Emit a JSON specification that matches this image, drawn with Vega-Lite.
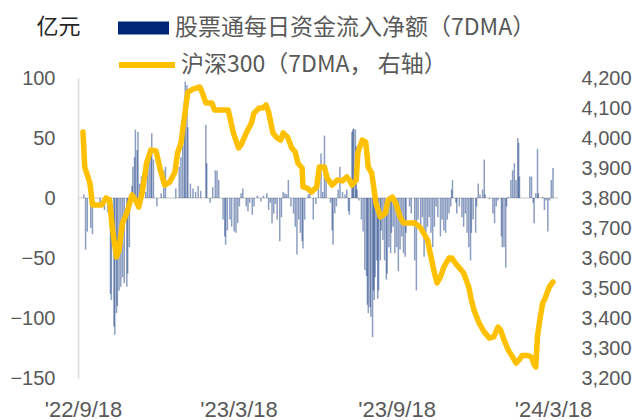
{
  "$schema": "https://vega.github.io/schema/vega-lite/v6.json",
  "width": 480,
  "height": 300,
  "autosize": "none",
  "padding": {"left": 78, "top": 78, "right": 80, "bottom": 42},
  "config": {"view": {"stroke": null}, "font": "Liberation Sans"},
  "datasets": {
    "flow": [
      {"date":"2022-09-19","flow":3},{"date":"2022-09-21","flow":-43},{"date":"2022-09-23","flow":-28},{"date":"2022-09-27","flow":-25},{"date":"2022-09-29","flow":-30},
      {"date":"2022-10-08","flow":-6},{"date":"2022-10-13","flow":-10},{"date":"2022-10-17","flow":-12},{"date":"2022-10-20","flow":-80},{"date":"2022-10-21","flow":-85},
      {"date":"2022-10-24","flow":-107},{"date":"2022-10-25","flow":-114},{"date":"2022-10-27","flow":-96},{"date":"2022-10-28","flow":-90},{"date":"2022-10-30","flow":-77},
      {"date":"2022-11-01","flow":-74},{"date":"2022-11-03","flow":-66},{"date":"2022-11-05","flow":-71},{"date":"2022-11-08","flow":-74},{"date":"2022-11-09","flow":-63},
      {"date":"2022-11-11","flow":-41},{"date":"2022-11-14","flow":10},{"date":"2022-11-15","flow":26},{"date":"2022-11-17","flow":34},{"date":"2022-11-18","flow":57},
      {"date":"2022-11-20","flow":40},{"date":"2022-11-21","flow":55},{"date":"2022-11-23","flow":12},{"date":"2022-11-25","flow":18},{"date":"2022-11-30","flow":5},
      {"date":"2022-12-02","flow":23},{"date":"2022-12-04","flow":34},{"date":"2022-12-06","flow":41},{"date":"2022-12-07","flow":54},{"date":"2022-12-09","flow":32},
      {"date":"2022-12-13","flow":-7},{"date":"2022-12-18","flow":4},{"date":"2022-12-21","flow":23},{"date":"2022-12-23","flow":26},
      {"date":"2023-01-04","flow":8},{"date":"2023-01-08","flow":26},{"date":"2023-01-10","flow":34},{"date":"2023-01-12","flow":44},{"date":"2023-01-14","flow":82},
      {"date":"2023-01-15","flow":97},{"date":"2023-01-17","flow":94},{"date":"2023-01-18","flow":59},{"date":"2023-01-21","flow":12},{"date":"2023-01-24","flow":8},
      {"date":"2023-01-27","flow":5},{"date":"2023-01-30","flow":10},{"date":"2023-02-02","flow":6},{"date":"2023-02-08","flow":61},{"date":"2023-02-09","flow":29},
      {"date":"2023-02-13","flow":-4},{"date":"2023-02-16","flow":9},{"date":"2023-02-19","flow":23},{"date":"2023-02-21","flow":23},{"date":"2023-02-23","flow":15},
      {"date":"2023-02-28","flow":-18},{"date":"2023-03-02","flow":-32},{"date":"2023-03-03","flow":-39},{"date":"2023-03-05","flow":-27},{"date":"2023-03-08","flow":-18},
      {"date":"2023-03-10","flow":-24},{"date":"2023-03-13","flow":-28},{"date":"2023-03-15","flow":-29},{"date":"2023-03-17","flow":-21},{"date":"2023-03-19","flow":-7},
      {"date":"2023-03-21","flow":4},{"date":"2023-03-23","flow":8},{"date":"2023-03-27","flow":-7},{"date":"2023-03-29","flow":-11},{"date":"2023-03-31","flow":-4},
      {"date":"2023-04-03","flow":-14},{"date":"2023-04-05","flow":-7},{"date":"2023-04-09","flow":2},{"date":"2023-04-13","flow":-3},{"date":"2023-04-16","flow":2},
      {"date":"2023-04-20","flow":4},{"date":"2023-04-22","flow":-10},{"date":"2023-04-24","flow":-4},{"date":"2023-04-26","flow":-21},{"date":"2023-04-28","flow":-13},
      {"date":"2023-04-30","flow":-5},{"date":"2023-05-02","flow":-18},{"date":"2023-05-05","flow":-36},{"date":"2023-05-07","flow":-16},{"date":"2023-05-09","flow":5},
      {"date":"2023-05-11","flow":4},{"date":"2023-05-13","flow":3},{"date":"2023-05-15","flow":15},{"date":"2023-05-18","flow":-7},{"date":"2023-05-21","flow":-13},
      {"date":"2023-05-23","flow":-24},{"date":"2023-05-25","flow":-47},{"date":"2023-05-27","flow":-18},{"date":"2023-05-29","flow":-29},{"date":"2023-05-31","flow":-36},
      {"date":"2023-06-01","flow":-42},{"date":"2023-06-03","flow":-18},{"date":"2023-06-07","flow":3},{"date":"2023-06-09","flow":9},{"date":"2023-06-13","flow":-18},
      {"date":"2023-06-16","flow":-5},{"date":"2023-06-19","flow":9},{"date":"2023-06-22","flow":37},{"date":"2023-06-24","flow":5},{"date":"2023-06-26","flow":52},
      {"date":"2023-06-28","flow":23},{"date":"2023-07-03","flow":-4},{"date":"2023-07-05","flow":-27},{"date":"2023-07-06","flow":-39},{"date":"2023-07-08","flow":-13},
      {"date":"2023-07-10","flow":-7},{"date":"2023-07-12","flow":7},{"date":"2023-07-14","flow":26},{"date":"2023-07-17","flow":5},{"date":"2023-07-20","flow":3},
      {"date":"2023-07-22","flow":7},{"date":"2023-07-24","flow":-11},{"date":"2023-07-25","flow":-14},{"date":"2023-07-28","flow":55},{"date":"2023-07-29","flow":57},
      {"date":"2023-07-30","flow":58},{"date":"2023-08-01","flow":57},{"date":"2023-08-02","flow":43},{"date":"2023-08-03","flow":7},{"date":"2023-08-05","flow":-2},
      {"date":"2023-08-08","flow":-18},{"date":"2023-08-10","flow":-28},{"date":"2023-08-12","flow":-60},{"date":"2023-08-14","flow":-65},{"date":"2023-08-15","flow":-89},
      {"date":"2023-08-16","flow":-96},{"date":"2023-08-18","flow":-91},{"date":"2023-08-19","flow":-99},{"date":"2023-08-21","flow":-116},{"date":"2023-08-22","flow":-77},
      {"date":"2023-08-23","flow":-85},{"date":"2023-08-24","flow":-66},{"date":"2023-08-26","flow":-52},{"date":"2023-08-27","flow":-84},{"date":"2023-08-28","flow":-77},
      {"date":"2023-08-30","flow":-52},{"date":"2023-08-31","flow":-27},{"date":"2023-09-02","flow":-35},{"date":"2023-09-04","flow":-52},{"date":"2023-09-06","flow":-68},
      {"date":"2023-09-07","flow":-63},{"date":"2023-09-09","flow":-41},{"date":"2023-09-11","flow":-46},{"date":"2023-09-12","flow":-29},{"date":"2023-09-14","flow":-24},
      {"date":"2023-09-16","flow":-46},{"date":"2023-09-18","flow":-41},{"date":"2023-09-20","flow":-61},{"date":"2023-09-22","flow":-43},{"date":"2023-09-24","flow":-32},
      {"date":"2023-09-26","flow":-46},{"date":"2023-09-28","flow":-49},{"date":"2023-09-29","flow":-29},{"date":"2023-10-03","flow":-7},{"date":"2023-10-05","flow":-13},
      {"date":"2023-10-09","flow":-52},{"date":"2023-10-11","flow":-77},{"date":"2023-10-13","flow":-18},{"date":"2023-10-16","flow":-29},{"date":"2023-10-18","flow":-16},
      {"date":"2023-10-20","flow":-49},{"date":"2023-10-22","flow":-32},{"date":"2023-10-24","flow":-24},{"date":"2023-10-26","flow":-16},{"date":"2023-10-28","flow":-29},
      {"date":"2023-10-30","flow":-41},{"date":"2023-11-01","flow":-24},{"date":"2023-11-03","flow":-7},{"date":"2023-11-05","flow":-16},{"date":"2023-11-08","flow":-32},
      {"date":"2023-11-10","flow":-18},{"date":"2023-11-12","flow":-27},{"date":"2023-11-14","flow":-29},{"date":"2023-11-16","flow":-18},{"date":"2023-11-18","flow":-13},
      {"date":"2023-11-20","flow":-7},{"date":"2023-11-21","flow":7},{"date":"2023-11-22","flow":15},{"date":"2023-11-26","flow":-4},{"date":"2023-11-27","flow":-13},
      {"date":"2023-11-30","flow":-7},{"date":"2023-12-03","flow":-16},{"date":"2023-12-05","flow":-24},{"date":"2023-12-07","flow":-13},{"date":"2023-12-09","flow":-29},
      {"date":"2023-12-11","flow":-41},{"date":"2023-12-13","flow":-52},{"date":"2023-12-14","flow":-29},{"date":"2023-12-16","flow":-18},{"date":"2023-12-19","flow":-29},
      {"date":"2023-12-20","flow":-7},{"date":"2023-12-22","flow":12},{"date":"2023-12-24","flow":3},{"date":"2023-12-27","flow":7},{"date":"2023-12-29","flow":32},
      {"date":"2023-12-30","flow":3},{"date":"2024-01-04","flow":-1},{"date":"2024-01-08","flow":-13},{"date":"2024-01-10","flow":-21},{"date":"2024-01-12","flow":-7},
      {"date":"2024-01-14","flow":-2},{"date":"2024-01-18","flow":-32},{"date":"2024-01-19","flow":-41},{"date":"2024-01-21","flow":-41},{"date":"2024-01-23","flow":-58},
      {"date":"2024-01-24","flow":-7},{"date":"2024-01-26","flow":1},{"date":"2024-01-29","flow":15},{"date":"2024-01-31","flow":23},{"date":"2024-02-02","flow":29},
      {"date":"2024-02-04","flow":15},{"date":"2024-02-06","flow":50},{"date":"2024-02-07","flow":46},{"date":"2024-02-08","flow":18},{"date":"2024-02-20","flow":18},
      {"date":"2024-02-22","flow":18},{"date":"2024-02-24","flow":-4},{"date":"2024-02-25","flow":-21},{"date":"2024-02-27","flow":4},{"date":"2024-02-29","flow":41},
      {"date":"2024-03-01","flow":4},{"date":"2024-03-06","flow":1},{"date":"2024-03-08","flow":-10},{"date":"2024-03-10","flow":-2},{"date":"2024-03-12","flow":-28},
      {"date":"2024-03-14","flow":-2},{"date":"2024-03-16","flow":15},{"date":"2024-03-18","flow":25}
    ],
    "csi": [
      {"date":"2022-09-18","csi":4020},{"date":"2022-09-20","csi":3903},{"date":"2022-09-26","csi":3850},{"date":"2022-09-28","csi":3803},{"date":"2022-09-29","csi":3777},
      {"date":"2022-10-10","csi":3777},{"date":"2022-10-15","csi":3800},{"date":"2022-10-19","csi":3793},{"date":"2022-10-22","csi":3703},{"date":"2022-10-27","csi":3603},
      {"date":"2022-10-30","csi":3627},{"date":"2022-11-03","csi":3717},{"date":"2022-11-08","csi":3750},{"date":"2022-11-14","csi":3810},{"date":"2022-11-18","csi":3793},
      {"date":"2022-11-22","csi":3770},{"date":"2022-11-26","csi":3820},{"date":"2022-12-01","csi":3917},{"date":"2022-12-06","csi":3960},{"date":"2022-12-12","csi":3957},
      {"date":"2022-12-17","csi":3893},{"date":"2022-12-22","csi":3843},{"date":"2022-12-28","csi":3853},{"date":"2023-01-03","csi":3887},{"date":"2023-01-06","csi":3950},
      {"date":"2023-01-10","csi":3983},{"date":"2023-01-14","csi":4070},{"date":"2023-01-18","csi":4153},{"date":"2023-01-24","csi":4163},{"date":"2023-02-01","csi":4170},
      {"date":"2023-02-04","csi":4150},{"date":"2023-02-08","csi":4117},{"date":"2023-02-15","csi":4117},{"date":"2023-02-18","csi":4093},{"date":"2023-02-28","csi":4093},
      {"date":"2023-03-06","csi":4093},{"date":"2023-03-12","csi":4017},{"date":"2023-03-18","csi":3967},{"date":"2023-03-21","csi":3977},{"date":"2023-03-27","csi":4017},
      {"date":"2023-04-02","csi":4050},{"date":"2023-04-05","csi":4083},{"date":"2023-04-11","csi":4100},{"date":"2023-04-15","csi":4100},{"date":"2023-04-19","csi":4110},
      {"date":"2023-04-22","csi":4087},{"date":"2023-04-27","csi":4017},{"date":"2023-05-02","csi":4000},{"date":"2023-05-06","csi":3993},{"date":"2023-05-09","csi":4017},
      {"date":"2023-05-14","csi":4003},{"date":"2023-05-19","csi":3967},{"date":"2023-05-23","csi":3953},{"date":"2023-05-26","csi":3917},{"date":"2023-05-31","csi":3900},
      {"date":"2023-06-01","csi":3837},{"date":"2023-06-06","csi":3833},{"date":"2023-06-11","csi":3820},{"date":"2023-06-17","csi":3837},{"date":"2023-06-20","csi":3903},
      {"date":"2023-06-26","csi":3903},{"date":"2023-06-29","csi":3867},{"date":"2023-07-05","csi":3843},{"date":"2023-07-11","csi":3860},{"date":"2023-07-17","csi":3857},
      {"date":"2023-07-22","csi":3870},{"date":"2023-07-25","csi":3860},{"date":"2023-07-28","csi":3843},{"date":"2023-08-02","csi":3860},{"date":"2023-08-04","csi":3953},
      {"date":"2023-08-09","csi":3993},{"date":"2023-08-13","csi":3987},{"date":"2023-08-16","csi":3903},{"date":"2023-08-20","csi":3883},{"date":"2023-08-25","csi":3783},
      {"date":"2023-08-30","csi":3737},{"date":"2023-09-05","csi":3750},{"date":"2023-09-08","csi":3793},{"date":"2023-09-13","csi":3803},{"date":"2023-09-17","csi":3783},
      {"date":"2023-09-22","csi":3737},{"date":"2023-09-26","csi":3717},{"date":"2023-10-03","csi":3717},{"date":"2023-10-09","csi":3717},{"date":"2023-10-16","csi":3700},
      {"date":"2023-10-24","csi":3660},{"date":"2023-10-27","csi":3617},{"date":"2023-11-01","csi":3550},{"date":"2023-11-04","csi":3517},{"date":"2023-11-08","csi":3537},
      {"date":"2023-11-12","csi":3570},{"date":"2023-11-18","csi":3600},{"date":"2023-11-21","csi":3600},{"date":"2023-11-27","csi":3577},{"date":"2023-12-05","csi":3550},
      {"date":"2023-12-11","csi":3503},{"date":"2023-12-14","csi":3460},{"date":"2023-12-17","csi":3427},{"date":"2023-12-23","csi":3383},{"date":"2023-12-29","csi":3353},
      {"date":"2024-01-04","csi":3333},{"date":"2024-01-09","csi":3337},{"date":"2024-01-14","csi":3370},{"date":"2024-01-17","csi":3360},{"date":"2024-01-21","csi":3327},
      {"date":"2024-01-26","csi":3293},{"date":"2024-02-01","csi":3265},{"date":"2024-02-04","csi":3250},{"date":"2024-02-08","csi":3262},{"date":"2024-02-11","csi":3275},
      {"date":"2024-02-18","csi":3275},{"date":"2024-02-22","csi":3270},{"date":"2024-02-25","csi":3245},{"date":"2024-02-27","csi":3237},{"date":"2024-02-29","csi":3340},
      {"date":"2024-03-03","csi":3400},{"date":"2024-03-06","csi":3450},{"date":"2024-03-09","csi":3467},{"date":"2024-03-11","csi":3483},{"date":"2024-03-14","csi":3505},
      {"date":"2024-03-18","csi":3520}
    ]
  },
  "layer": [
    {
      "layer": [
        {
          "data": {"values": [{}]},
          "mark": {"type": "rule", "color": "#d9d9d9", "strokeWidth": 1.5},
          "encoding": {"y": {"datum": 0, "type": "quantitative"}}
        },
        {
          "data": {"name": "flow"},
          "mark": {"type": "bar", "size": 1.5, "fillOpacity": 0.45},
          "encoding": {
            "x": {
              "field": "date", "type": "temporal",
              "scale": {"domain": [{"year": 2022, "month": 9, "date": 18}, {"year": 2024, "month": 3, "date": 18}]},
              "axis": {
                "values": [{"year": 2022, "month": 9, "date": 18}, {"year": 2023, "month": 3, "date": 18}, {"year": 2023, "month": 9, "date": 18}, {"year": 2024, "month": 3, "date": 18}],
                "labelExpr": "\"'\" + timeFormat(datum.value, '%y/%-m/%-d')",
                "domain": false, "ticks": false, "grid": false, "title": null,
                "labelFlush": false, "labelOverlap": false,
                "labelFontSize": 22, "labelColor": "#595959", "labelPadding": 21
              }
            },
            "y": {
              "field": "flow", "type": "quantitative",
              "scale": {"domain": [-150, 100], "nice": false},
              "axis": {
                "values": [-150, -100, -50, 0, 50, 100],
                "domain": true, "domainColor": "#d9d9d9", "domainWidth": 1.5,
                "ticks": false, "grid": false,
                "labelFontSize": 20, "labelColor": "#595959", "labelPadding": 23,
                "title": "亿元", "titleAngle": 0, "titleX": -20, "titleY": -52,
                "titleAlign": "center", "titleBaseline": "middle",
                "titleFont": "Noto Sans CJK SC", "titleFontSize": 22, "titleFontWeight": "normal", "titleColor": "#262626"
              }
            },
            "fill": {
              "datum": "股票通每日资金流入净额（7DMA）",
              "scale": {"range": ["#002776"]},
              "legend": {
                "orient": "none", "legendX": 40, "legendY": -75.5, "title": null, "padding": 0,
                "symbolType": "M-1,-0.255H1V0.255H-1Z", "symbolSize": 2601, "symbolStrokeWidth": 0,
                "symbolOpacity": 1,
                "labelFont": "Noto Sans CJK SC", "labelFontSize": 23, "labelColor": "#595959", "labelOffset": 6, "labelLimit": 600,
                "encode": {"symbols": {"enter": {"fillOpacity": {"value": 1}, "opacity": {"value": 1}}, "update": {"fill": {"value": "#002776"}, "fillOpacity": {"value": 1}, "opacity": {"value": 1}}}}
              }
            }
          }
        }
      ]
    },
    {
      "data": {"name": "csi"},
      "mark": {"type": "line", "strokeWidth": 5.5, "strokeJoin": "round", "strokeCap": "round"},
      "encoding": {
        "x": {"field": "date", "type": "temporal"},
        "y": {
          "field": "csi", "type": "quantitative",
          "scale": {"domain": [3200, 4200], "nice": false, "zero": false},
          "axis": {
            "orient": "right",
            "values": [3200, 3300, 3400, 3500, 3600, 3700, 3800, 3900, 4000, 4100, 4200],
            "format": ",.0f", "domain": false, "ticks": false, "grid": false, "title": null,
            "labelAlign": "left", "labelFontSize": 20, "labelColor": "#595959", "labelPadding": 23
          }
        },
        "stroke": {
          "datum": "沪深300（7DMA， 右轴）",
          "scale": {"range": ["#FFC000"]},
          "legend": {
            "orient": "none", "legendX": 38, "legendY": -44, "title": null, "padding": 0,
            "symbolType": "stroke", "symbolSize": 3136, "symbolStrokeWidth": 6,
            "labelFont": "Noto Sans CJK SC", "labelFontSize": 23, "labelColor": "#595959", "labelOffset": 3, "labelLimit": 600
          }
        }
      }
    }
  ],
  "resolve": {"scale": {"y": "independent"}}
}
